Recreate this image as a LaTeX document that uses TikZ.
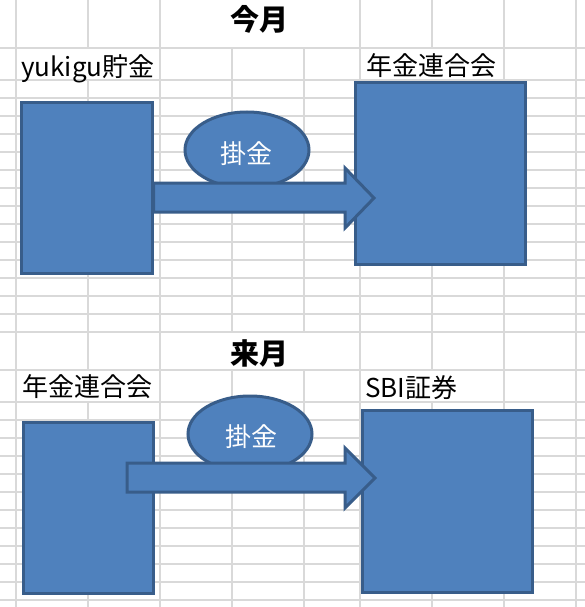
\documentclass[tikz,border=0pt]{standalone}
\usepackage{fontspec}
\usetikzlibrary{shapes.geometric}
\setmainfont{Noto Sans CJK JP}
\definecolor{boxfill}{HTML}{4F81BD}
\definecolor{boxline}{HTML}{385D8A}
\definecolor{gridc}{HTML}{D9D9D9}
\begin{document}
\begin{tikzpicture}[x=1pt,y=-1pt,
  blockbox/.style={draw=boxline,fill=boxfill,line width=3pt,rectangle,inner sep=0pt},
  oval/.style={draw=boxline,fill=boxfill,line width=3pt,ellipse,inner sep=0pt},
  fatarrow/.style={draw=boxline,fill=boxfill,line width=3pt,line join=miter},
  lbl/.style={inner sep=0pt,anchor=west,text height=22.9pt,text depth=3.1pt,font=\fontsize{26}{30}\selectfont},
  ttl/.style={inner sep=0pt,anchor=center,text height=25.5pt,text depth=3.5pt,font=\fontsize{29}{34}\selectfont\bfseries},
  ovtxt/.style={inner sep=0pt,anchor=center,text height=22.9pt,text depth=3.1pt,text=white,font=\fontsize{26}{30}\selectfont},
  gridline/.style={draw=gridc,line width=1.1pt}]
\useasboundingbox (0,0) rectangle (585,607);
\fill[white] (0,0) rectangle (585,607);
% grid: horizontal
\foreach \y in {48,80,98,116,134,152,170,188,206,224,242,260,278,296,314,332,370,402,420,438,456,474,492,510,528,546,564,582,600}
  \draw[gridline] (0,\y) -- (585,\y);
% grid: vertical
\foreach \x in {16,160,360,504,576}
  \draw[gridline] (\x,0) -- (\x,607);
\foreach \x in {88,432}{
  \draw[gridline] (\x,0) -- (\x,48);
  \draw[gridline] (\x,80) -- (\x,370);
  \draw[gridline] (\x,402) -- (\x,607);}
\foreach \x in {232,304}{
  \draw[gridline] (\x,48) -- (\x,332);
  \draw[gridline] (\x,370) -- (\x,607);}
% titles and labels
\node[ttl] (t1) at (259.5,20) {今月};
\node[ttl] (t2) at (259.5,353.5) {来月};
\node[lbl] (l1) at (21,66.5) {yukigu貯金};
\node[lbl] (l2) at (366,65.5) {年金連合会};
\node[lbl] (l3) at (22,387) {年金連合会};
\node[lbl] (l4) at (365,387.5) {SBI証券};
% boxes
\node[blockbox,minimum width=131pt,minimum height=170pt] (a1) at (86.5,188) {};
\node[blockbox,minimum width=170pt,minimum height=181pt] (b1) at (440,173.5) {};
\node[blockbox,minimum width=130pt,minimum height=171pt] (a2) at (88,507.5) {};
\node[blockbox,minimum width=170pt,minimum height=182pt] (b2) at (447,501) {};
% ovals
\node[oval,minimum width=124pt,minimum height=76pt] (e1) at (247,150) {};
\node[oval,minimum width=124pt,minimum height=76pt] (e2) at (250,434) {};
% arrows
\draw[fatarrow] (a1.east |- 0,183) -- (345,183) -- (345,168) -- (374,198) -- (345,228) -- (345,212) -- (a1.east |- 0,212) -- cycle;
\draw[fatarrow] (127,463) -- (345,463) -- (345,448) -- (375,478) -- (345,508) -- (345,492) -- (127,492) -- cycle;
% oval texts
\node[ovtxt] (k1) at (246.5,153.5) {掛金};
\node[ovtxt] (k2) at (251,437) {掛金};
\end{tikzpicture}
\end{document}
